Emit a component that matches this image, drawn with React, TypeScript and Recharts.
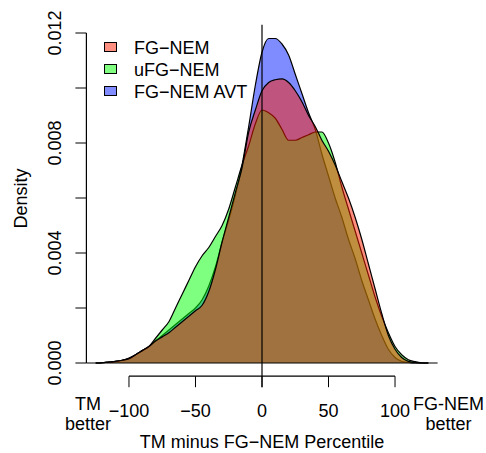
import { ComposedChart, Area, XAxis, YAxis, ReferenceLine, Legend } from "recharts";

// x positions of the density estimates (TM minus FG-NEM percentile)
const percentile = [
  -125, -120, -115, -110, -105, -100, -95, -90, -85, -80, -75, -70, -65, -60, -55, -50, -45,
  -40, -35, -30, -25, -20, -15, -10, -5, 0, 5, 10, 15, 20, 25, 30, 35, 40, 45, 50, 55, 60, 65,
  70, 75, 80, 85, 90, 95, 100, 105, 110, 115, 120, 125,
];

const fgNem = [
  0, 0.00001, 0.00003, 0.00006, 0.0001, 0.00016, 0.0003, 0.00045, 0.0006, 0.0008, 0.00095,
  0.0011, 0.0013, 0.0015, 0.0017, 0.0019, 0.0021, 0.0026, 0.0034, 0.0044, 0.0053, 0.0062,
  0.0071, 0.0084, 0.0092, 0.0099, 0.0102, 0.0103, 0.01033, 0.0102, 0.0099, 0.0095, 0.009,
  0.0086, 0.0081, 0.0077, 0.0072, 0.0066, 0.006, 0.0053, 0.0045, 0.0036, 0.0027, 0.0018, 0.001,
  0.0005, 0.0002, 0.00006, 0.00002, 0, 0,
];

const ufgNem = [
  0, 0.00001, 0.00003, 0.00006, 0.0001, 0.00016, 0.0003, 0.00045, 0.0006, 0.0009, 0.0012,
  0.0015, 0.002, 0.0025, 0.003, 0.0035, 0.0039, 0.0042, 0.0046, 0.005, 0.0056, 0.0064, 0.0072,
  0.0079, 0.0087, 0.0092, 0.0091, 0.0089, 0.0085, 0.0081, 0.0081, 0.0082, 0.0083, 0.0084,
  0.0084, 0.008, 0.0073, 0.0064, 0.0056, 0.0048, 0.004, 0.0032, 0.0024, 0.0017, 0.0011, 0.0006,
  0.0003, 0.00012, 0.00005, 0.00001, 0,
];

const fgNemAvt = [
  0, 0.00001, 0.00003, 0.00006, 0.0001, 0.00018, 0.0003, 0.00045, 0.0006, 0.0008, 0.001, 0.0012,
  0.0014, 0.0016, 0.0018, 0.002, 0.0023, 0.0028, 0.0035, 0.0044, 0.0052, 0.0061, 0.0072, 0.0086,
  0.0101, 0.0113, 0.0118, 0.0118, 0.0116, 0.0112, 0.0105, 0.0098, 0.0091, 0.0085, 0.0076,
  0.0068, 0.006, 0.0053, 0.0045, 0.0038, 0.003, 0.0023, 0.0016, 0.001, 0.0005, 0.0002, 0.00006,
  0.00002, 0, 0, 0,
];

const xTicks = [-100, -50, 0, 50, 100];
const xTickLabels = ["\u2212100", "\u221250", "0", "50", "100"];
const yTicks = [0, 0.002, 0.004, 0.006, 0.008, 0.01, 0.012];
const yTickLabels = ["0.000", "", "0.004", "", "0.008", "", "0.012"];

// drawn blue first, then green, then red (as in the original overlay)
const SERIES = [
  { key: "fgNem", name: "FG\u2212NEM", color: "#ff1e00" },
  { key: "ufgNem", name: "uFG\u2212NEM", color: "#00ff00" },
  { key: "fgNemAvt", name: "FG\u2212NEM AVT", color: "#0019ff" },
];

const FONT = "'Liberation Sans', Arial, Helvetica, sans-serif";
const ALPHA = 0.5;

const data = percentile.map((x, i) => ({
  x,
  fgNem: fgNem[i],
  ufgNem: ufgNem[i],
  fgNemAvt: fgNemAvt[i],
}));

const XTick = ({ x, y, payload }: any) => (
  <text x={x} y={y} dy={13} textAnchor="middle" fontSize={18} fill="#000" fontFamily={FONT}>
    {xTickLabels[xTicks.indexOf(payload.value)]}
  </text>
);

const YTick = ({ x, y, payload }: any) => {
  const i = yTicks.findIndex((t) => Math.abs(t - payload.value) < 1e-9);
  if (!yTickLabels[i]) return null;
  return (
    <text
      x={x}
      y={y}
      transform={`rotate(-90, ${x}, ${y})`}
      textAnchor="middle"
      fontSize={18}
      fill="#000"
      fontFamily={FONT}
    >
      {yTickLabels[i]}
    </text>
  );
};

const YLabel = ({ viewBox }: any) => {
  const cx = viewBox.x + 27.5;
  const cy = viewBox.y + viewBox.height / 2 - 2;
  return (
    <text x={cx} y={cy} transform={`rotate(-90, ${cx}, ${cy})`} textAnchor="middle" fontSize={18} fill="#000" fontFamily={FONT}>
      Density
    </text>
  );
};

const XLabel = ({ viewBox }: any) => {
  const { x, y, width } = viewBox;
  const left = x + 1.6;
  const right = x + width + 11;
  return (
    <g fontSize={18} fill="#000" fontFamily={FONT} textAnchor="middle">
      <text x={x + width / 2} y={y + 71.8}>TM minus FG{"\u2212"}NEM Percentile</text>
      <text x={left} y={y + 34}>TM</text>
      <text x={left} y={y + 54}>better</text>
      <text x={right} y={y + 34}>FG-NEM</text>
      <text x={right} y={y + 54}>better</text>
    </g>
  );
};

const LegendBox = () => (
  <div style={{ fontFamily: FONT, fontSize: 18, color: "#000" }}>
    {SERIES.map((s) => (
      <div key={s.key} style={{ display: "flex", alignItems: "center", height: 22 }}>
        <span
          style={{
            display: "inline-block",
            width: 11,
            height: 8,
            border: "1px solid #000",
            marginRight: 17,
            backgroundColor: `color-mix(in srgb, ${s.color} ${ALPHA * 100}%, white)`,
          }}
        />
        <span style={{ position: "relative", top: 1 }}>{s.name}</span>
      </div>
    ))}
  </div>
);

export default function App() {
  return (
    <div style={{ position: "absolute", left: 0, top: 0, width: 486, height: 453, background: "#fff", fontFamily: FONT }}>
      <ComposedChart width={486} height={453} data={data} margin={{ top: 24.75, right: 48.4, bottom: 16.8, left: 0 }}>
        <XAxis
          type="number"
          dataKey="x"
          domain={[-132, 132]}
          allowDataOverflow
          ticks={xTicks}
          interval={0}
          tickSize={11}
          tickMargin={17}
          tick={<XTick />}
          stroke="#000"
          axisLine={false}
          height={60}
          label={<XLabel />}
        />
        <YAxis
          type="number"
          domain={[-0.00048, 0.0123]}
          allowDataOverflow
          ticks={yTicks}
          interval={0}
          tickSize={11}
          tickMargin={14}
          tick={<YTick />}
          stroke="#000"
          axisLine={false}
          width={86.4}
          label={<YLabel />}
        />
        <Legend layout="vertical" align="center" verticalAlign="middle" content={<LegendBox />} wrapperStyle={{ left: 104, top: 36, width: "auto" }} />
        {[...SERIES].reverse().map((s) => (
          <Area
            key={s.key}
            type="monotone"
            dataKey={s.key}
            name={s.name}
            baseValue={0}
            fill={s.color}
            fillOpacity={ALPHA}
            stroke="#000"
            strokeWidth={1.2}
            dot={false}
            activeDot={false}
            isAnimationActive={false}
          />
        ))}
        <ReferenceLine y={0} stroke="#000" strokeWidth={1.2} />
        <ReferenceLine segment={[{ x: 0, y: -0.00088 }, { x: 0, y: 0.0123 }]} stroke="#000" strokeWidth={1.2} ifOverflow="visible" />
        <ReferenceLine segment={[{ x: -100, y: -0.00048 }, { x: 100, y: -0.00048 }]} stroke="#000" strokeWidth={1.2} ifOverflow="visible" />
        <ReferenceLine segment={[{ x: -132, y: 0 }, { x: -132, y: 0.012 }]} stroke="#000" strokeWidth={1.2} ifOverflow="visible" />
      </ComposedChart>
    </div>
  );
}
